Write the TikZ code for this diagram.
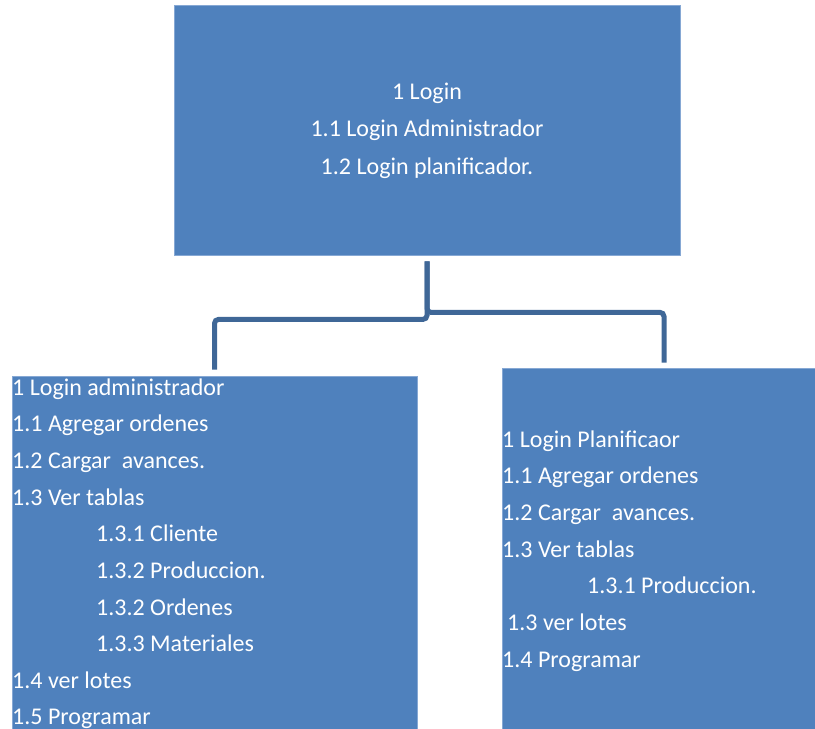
\documentclass[tikz,border=0pt]{standalone}
\usepackage{fontspec}
\setmainfont{Carlito}
\usetikzlibrary{calc}
\definecolor{boxfill}{HTML}{4F81BD}
\definecolor{boxrim}{HTML}{86A8D4}
\definecolor{linkcol}{HTML}{3F6797}
\tikzset{
  box/.style={rectangle, fill=boxfill, draw=boxrim, line width=0.8bp, inner sep=0pt},
  item/.style={anchor=base west, inner sep=0pt, text=white, font=\fontsize{24bp}{28bp}\selectfont},
  title/.style={anchor=base, inner sep=0pt, text=white, font=\fontsize{24bp}{28bp}\selectfont},
  link/.style={draw=linkcol, line width=5bp, rounded corners=4bp}
}
\begin{document}
\begin{tikzpicture}[x=1bp, y=-1bp]
\useasboundingbox (0,0) rectangle (815,729);

% boxes
\node[box, minimum width=506bp, minimum height=250bp] (root) at (427,130) {};
\node[box, minimum width=405bp, minimum height=360bp] (admin) at (214.5,556) {};
\node[box, minimum width=313bp, minimum height=368bp] (plan) at (658.5,552) {};

% connectors
\draw[link] ([yshift=-6bp]root.south) -- ++(0,58) -| ([yshift=6bp]admin.north);
\draw[link] ([yshift=-6bp]root.south) -- ++(0,51) -| ([xshift=5.5bp,yshift=5bp]plan.north);

% top box text
\node[title] (r1) at (427,100) {1 Login};
\node[title] (r2) at (427,137) {1.1 Login Administrador};
\node[title] (r3) at (427,174) {1.2 Login planificador.};

% administrator box text
\node[item] (a1)  at (12,395)    {1 Login administrador};
\node[item] (a2)  at (12,431.7)  {1.1 Agregar ordenes};
\node[item] (a3)  at (12,468.3)  {1.2 Cargar\ \ avances.};
\node[item] (a4)  at (12,505)    {1.3 Ver tablas};
\node[item] (a5)  at (96,541.7)  {1.3.1 Cliente};
\node[item] (a6)  at (96,578.3)  {1.3.2 Produccion.};
\node[item] (a7)  at (96,615)    {1.3.2 Ordenes};
\node[item] (a8)  at (96,651.7)  {1.3.3 Materiales};
\node[item] (a9)  at (12,688.3)  {1.4 ver lotes};
\node[item] (a10) at (12,724)    {1.5 Programar};

% planner box text
\node[item] (p1) at (502,447)    {1 Login Planificaor};
\node[item] (p2) at (502,483.7)  {1.1 Agregar ordenes};
\node[item] (p3) at (502,520.3)  {1.2 Cargar\ \ avances.};
\node[item] (p4) at (502,557)    {1.3 Ver tablas};
\node[item] (p5) at (587,593.7)  {1.3.1 Produccion.};
\node[item] (p6) at (507,630.3)  {1.3 ver lotes};
\node[item] (p7) at (502,667)    {1.4 Programar};
\end{tikzpicture}
\end{document}
